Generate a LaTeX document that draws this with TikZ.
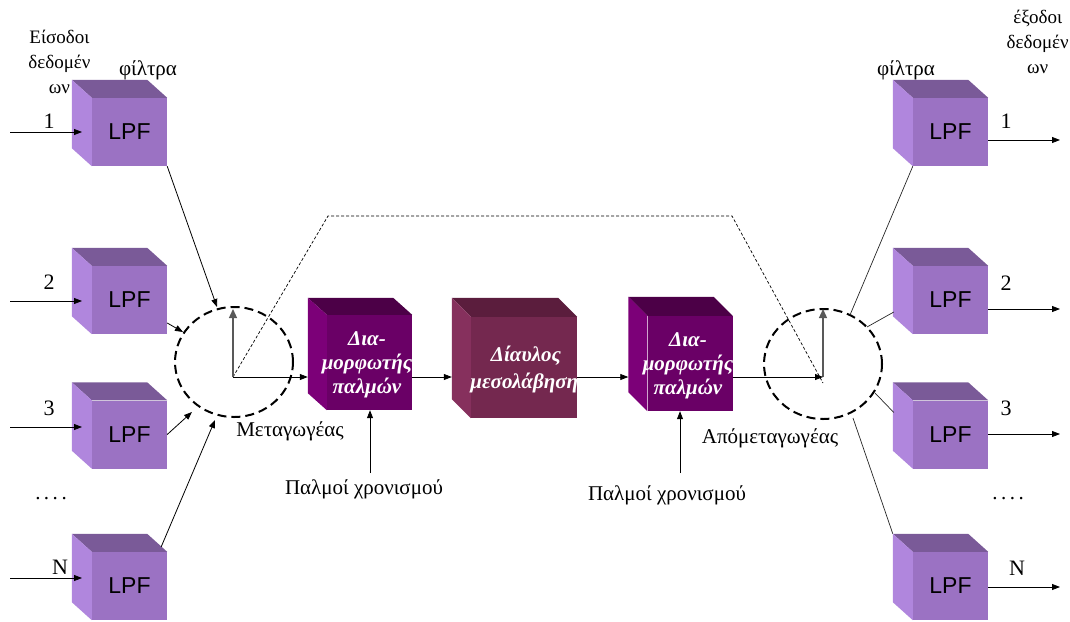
\documentclass[tikz,border=0pt]{standalone}
\usepackage{fontspec}
\setmainfont{Liberation Serif}
\newfontfamily\lpffont{Liberation Sans}
\usetikzlibrary{arrows.meta,calc,shapes.geometric}

\definecolor{lpffront}{HTML}{9B72C3}
\definecolor{lpftop}{HTML}{7A5A98}
\definecolor{lpfside}{HTML}{B086DD}
\definecolor{modfront}{HTML}{6A0066}
\definecolor{modtop}{HTML}{4C0047}
\definecolor{modside}{HTML}{7C0078}
\definecolor{chanfront}{HTML}{74284F}
\definecolor{chantop}{HTML}{5B1D3D}
\definecolor{chanside}{HTML}{86305D}

% top and left faces of a box whose front face is node #1
\newcommand\cubefaces[5]{%
  \fill[#4] (#1.north west) -- ++(-#2,-#3) -- ($(#1.north east)+(-#2,-#3)$) -- (#1.north east) -- cycle;
  \fill[#5] (#1.north west) -- ++(-#2,-#3) -- ($(#1.south west)+(-#2,-#3)$) -- (#1.south west) -- cycle;
}

\tikzset{
  lpf/.style={fill=lpffront, minimum width=75pt, minimum height=68pt, inner sep=0pt,
    font=\lpffont\fontsize{23}{23}\selectfont},
  modbox/.style={fill=modfront, minimum width=85pt, minimum height=95pt, inner sep=0pt},
  chanbox/.style={fill=chanfront, minimum width=106pt, minimum height=101pt, inner sep=0pt},
  boxtext/.style={inner sep=0pt, text=white, align=center, font=\bfseries\itshape\fontsize{21}{24}\selectfont},
  lbl/.style={inner sep=0pt, align=center, font=\fontsize{21}{24}\selectfont},
  head/.style={inner sep=0pt, align=center, font=\fontsize{19}{25}\selectfont},
  num/.style={inner sep=0pt, font=\fontsize{22}{22}\selectfont},
  arr/.style={-{Triangle[length=8pt,width=6pt]}, line width=0.8pt},
  wire/.style={line width=0.7pt, draw=black!85},
  switchring/.style={ellipse, draw, line width=2pt, dash pattern=on 9pt off 5pt,
    minimum width=118pt, minimum height=110pt, inner sep=0pt},
  hand/.style={-{Triangle[length=9pt,width=8pt]}, line width=1.3pt, draw=black!65, fill=black},
  route/.style={line width=0.7pt, dash pattern=on 3pt off 2pt},
}

\begin{document}
\begin{tikzpicture}[x=1pt,y=-1pt]
\useasboundingbox (0,0) rectangle (1070,621);

% input filters
\node[lpf] (L1) at (129.5,132) {LPF};
\node[lpf] (L2) at (129.5,300) {LPF};
\node[lpf] (L3) at (129.5,434.5) {LPF};
\node[lpf] (LN) at (129.5,586) {LPF};
\foreach \n in {L1,L2,L3,LN} {\cubefaces{\n}{20}{18}{lpftop}{lpfside}}

% output filters
\node[lpf] (R1) at (950.5,132) {LPF};
\node[lpf] (R2) at (950.5,300) {LPF};
\node[lpf] (R3) at (950.5,434.5) {LPF};
\node[lpf] (RN) at (950.5,586) {LPF};
\foreach \n in {R1,R2,R3,RN} {\cubefaces{\n}{20}{18}{lpftop}{lpfside}}

% modulators and channel
\node[modbox] (M1) at (369.5,362.5) {};
\cubefaces{M1}{19}{17}{modtop}{modside}
\node[boxtext] (M1t) at (367,365) {Δια-\\μορφωτής\\παλμών};
\node[chanbox] (CH) at (524,367.5) {};
\cubefaces{CH}{19}{19}{chantop}{chanside}
\node[boxtext, font=\bfseries\itshape\fontsize{21}{27}\selectfont] (CHt) at (526,369) {Δίαυλος\\\hspace*{6pt}μεσολάβησης};
\node[modbox] (M2) at (690,363.5) {};
\cubefaces{M2}{19}{19}{modtop}{modside}
\node[boxtext] (M2t) at (688,366) {Δια-\\μορφωτής\\παλμών};

% rotary switches
\node[switchring] (SL) at (234,362) {};
\node[switchring] (SR) at (823,364) {};
\coordinate (hubL) at (233,377);
\coordinate (hubR) at (823,377);
\coordinate (armL) at (233,309);
\coordinate (armR) at (823,309);

% dashed return path
\coordinate (pathA) at (328,216);
\coordinate (pathB) at (732,216);
\coordinate (pathC) at (823,383);
\draw[route] (hubL) -- (pathA) -- (pathB) -- (pathC);

\draw[hand] (hubL) -- (armL);
\draw[hand] (hubR) -- (armR);

% signal path
\draw[arr] (hubL) -- ([xshift=-19pt]hubL -| M1.west);
\draw[arr] (hubL -| M1.east) -- ([xshift=-19pt]hubL -| CH.west);
\draw[arr] (hubL -| CH.east) -- ([xshift=-19pt]hubL -| M2.west);
\draw[arr] (hubR -| M2.east) -- (hubR);

% clock pulses
\coordinate (clk1) at (370,473);
\coordinate (clk2) at (680,473);
\draw[arr] (clk1) -- (clk1 |- M1.south);
\draw[arr] (clk2) -- (clk2 |- M2.south);
\node[lbl] (P1) at (364,489) {Παλμοί χρονισμού};
\node[lbl] (P2) at (667,495) {Παλμοί χρονισμού};

\node[lbl] (tL) at (290,431) {Μεταγωγέας};
\node[lbl] (tR) at (770,438) {Απόμεταγωγέας};

% inputs
\coordinate (in1) at (10,132);
\coordinate (in2) at (10,301);
\coordinate (in3) at (10,427);
\coordinate (inN) at (10,578);
\draw[arr] (in1) -- ++(72,0);
\draw[arr] (in2) -- ++(72,0);
\draw[arr] (in3) -- ++(72,0);
\draw[arr] (inN) -- ++(72,0);
\node[num] (n1) at (49,121) {1};
\node[num] (n2) at (49,282) {2};
\node[num] (n3) at (49,408) {3};
\node[num] (nN) at (60,567) {N};
\node[lbl, anchor=base] (dL) at (51,499) {.\,.\,.\,.};

% outputs
\coordinate (out1) at (1060,140);
\coordinate (out2) at (1060,309);
\coordinate (out3) at (1060,434);
\coordinate (outN) at (1060,587);
\draw[arr] (out1 -| R1.east) -- (out1);
\draw[arr] (out2 -| R2.east) -- (out2);
\draw[arr] (out3 -| R3.east) -- (out3);
\draw[arr] (outN -| RN.east) -- (outN);
\node[num] (m1) at (1006,121) {1};
\node[num] (m2) at (1006,283) {2};
\node[num] (m3) at (1006,408) {3};
\node[num] (mN) at (1017,568) {N};
\node[lbl, anchor=base] (dR) at (1008,499) {.\,.\,.\,.};

% filters into the switch
\coordinate (sl1) at (217,307);
\coordinate (sl2) at (183,332);
\coordinate (sl3) at (192,412);
\coordinate (slN) at (215,420);
\draw[arr] (L1.south east) -- (sl1);
\draw[arr] ([shift={(0,23)}]L2.east) -- (sl2);
\draw[arr] (L3.east) -- (sl3);
\draw[arr] ([shift={(-6,-5)}]LN.north east) -- (slN);

% switch out to filters
\coordinate (sr1) at (850,315);
\coordinate (sr2) at (867,327);
\coordinate (sr3) at (875,393);
\coordinate (srN) at (853,418);
\draw[wire] (R1.south west) -- (sr1);
\draw[wire] ([shift={(-19,12)}]R2.west) -- (sr2);
\draw[wire] ([shift={(-19,-22)}]R3.west) -- (sr3);
\draw[wire] ([shift={(-20,-18)}]RN.north west) -- (srN);

% headings
\node[head] (hin) at (59.5,62) {Είσοδοι\\δεδομέν\\ων};
\node[head, font=\fontsize{21}{25}\selectfont] (fL) at (148,70) {φίλτρα};
\node[head, anchor=north east] (hout) at (1069,10) {έξοδοι\\δεδομέν\\ων};
\node[head, font=\fontsize{21}{25}\selectfont] (fR) at (906,70) {φίλτρα};
\end{tikzpicture}
\end{document}
